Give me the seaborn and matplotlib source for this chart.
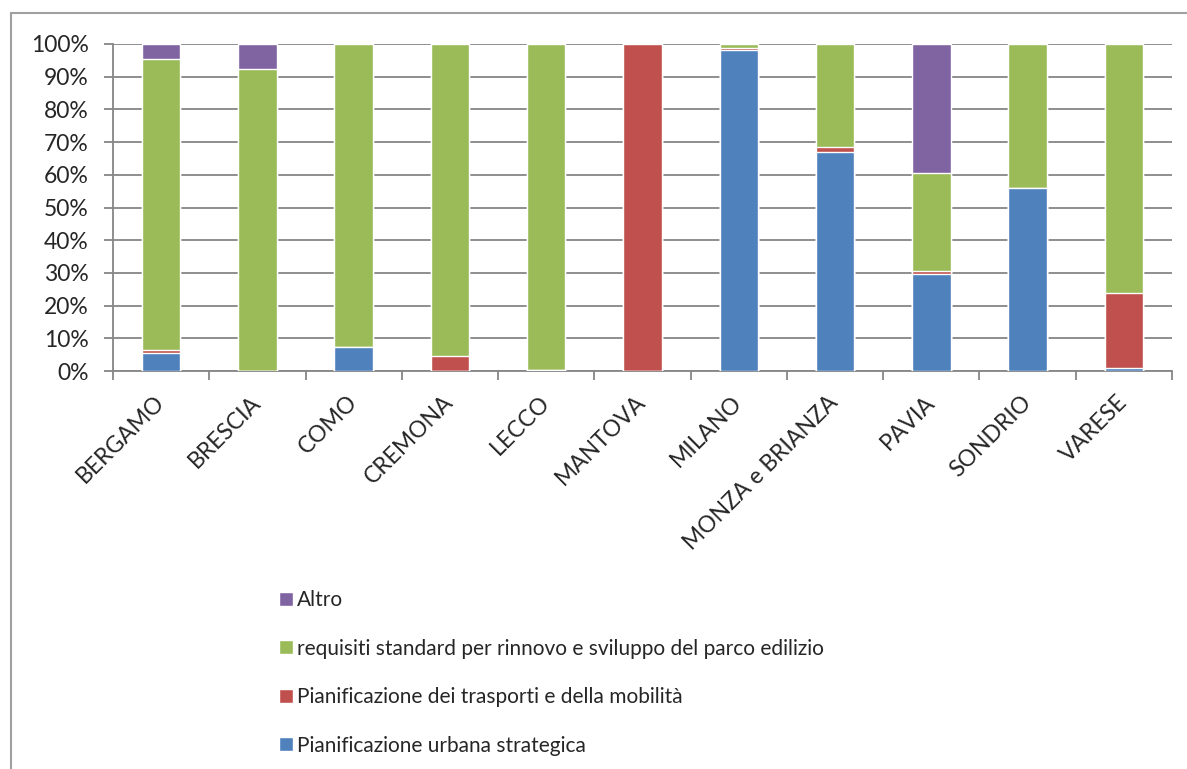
import pandas as pd
import matplotlib.pyplot as plt
import seaborn as sns
from matplotlib.patches import Rectangle
from matplotlib.ticker import PercentFormatter, FixedLocator

# Data (shares in %)
provinces = ["BERGAMO", "BRESCIA", "COMO", "CREMONA", "LECCO", "MANTOVA",
             "MILANO", "MONZA e BRIANZA", "PAVIA", "SONDRIO", "VARESE"]
urbana = [5.6, 0.0, 7.2, 0.0, 0.4, 0.0, 98.2, 66.9, 29.8, 56.1, 1.0]
trasporti = [0.8, 0.0, 0.0, 4.7, 0.0, 100.0, 0.5, 1.6, 0.7, 0.0, 22.9]
requisiti = [88.9, 92.3, 92.8, 95.3, 99.6, 0.0, 1.3, 31.5, 30.1, 43.9, 76.1]
altro = [4.7, 7.7, 0.0, 0.0, 0.0, 0.0, 0.0, 0.0, 39.4, 0.0, 0.0]

series_names = ["Pianificazione urbana strategica",
                "Pianificazione dei trasporti e della mobilità",
                "requisiti standard per rinnovo e sviluppo del parco edilizio",
                "Altro"]
colors = ["#4F81BD", "#C0504D", "#9BBB59", "#8064A2"]

df = pd.DataFrame({"provincia": provinces,
                   series_names[0]: urbana,
                   series_names[1]: trasporti,
                   series_names[2]: requisiti,
                   series_names[3]: altro})
cum = df[series_names].cumsum(axis=1)

sns.set_style("white")
plt.rcParams["font.family"] = ["Lato", "DejaVu Sans"]

fig = plt.figure(figsize=(11.87, 7.69), dpi=100)
ax = fig.add_axes([113 / 1187, 1 - 371 / 769, (1172 - 113) / 1187, (371 - 44) / 769])

grid_col = "#868686"
# draw stacks from top layer down so each lower segment covers the one above
for name, col in reversed(list(zip(series_names, colors))):
    sns.barplot(x=df["provincia"], y=cum[name], color=col, width=0.4,
                ax=ax, saturation=1, label=name, zorder=3)

ax.set_ylim(0, 100)
ax.set_xlim(-0.5, len(provinces) - 0.5)
ax.yaxis.set_major_locator(FixedLocator(range(0, 101, 10)))
ax.yaxis.set_major_formatter(PercentFormatter(decimals=0))
ax.grid(axis="y", color=grid_col, linewidth=1.3, zorder=0)
ax.set_axisbelow(True)
ax.set_xlabel("")
ax.set_ylabel("")

for side in ["top", "right"]:
    ax.spines[side].set_visible(False)
for side in ["left", "bottom"]:
    ax.spines[side].set_color(grid_col)
    ax.spines[side].set_linewidth(1.3)

ax.tick_params(axis="y", length=6.5, width=1.3, color=grid_col, pad=11,
               labelsize=16.5, left=True)
# category boundaries get the tick marks, labels sit at centres
ax.set_xticks([i - 0.5 for i in range(len(provinces) + 1)], minor=True)
ax.tick_params(axis="x", which="minor", length=6.5, width=1.3, color=grid_col,
               bottom=True)
ax.tick_params(axis="x", which="major", length=0, pad=20, labelsize=16.5)
ax.set_xticks(range(len(provinces)))
ax.set_xticklabels(provinces, rotation=45, ha="right", va="center",
                   rotation_mode="anchor")

handles, labels = ax.get_legend_handles_labels()
ax.legend(handles, labels, loc="upper left",
          bbox_to_anchor=(279 / 1187, 1 - 590 / 769),
          bbox_transform=fig.transFigure, frameon=False, fontsize=15,
          handlelength=0.68, handleheight=0.68, handletextpad=0.2,
          labelspacing=1.37, borderpad=0, borderaxespad=0)

fig.patches.append(Rectangle((11 / 1187, -0.1), 1.2, 1 - 13 / 769 + 0.1,
                             transform=fig.transFigure, fill=False,
                             edgecolor="#A0A0A0", linewidth=1.5))

fig.savefig("out.png", dpi=100, facecolor="white")
